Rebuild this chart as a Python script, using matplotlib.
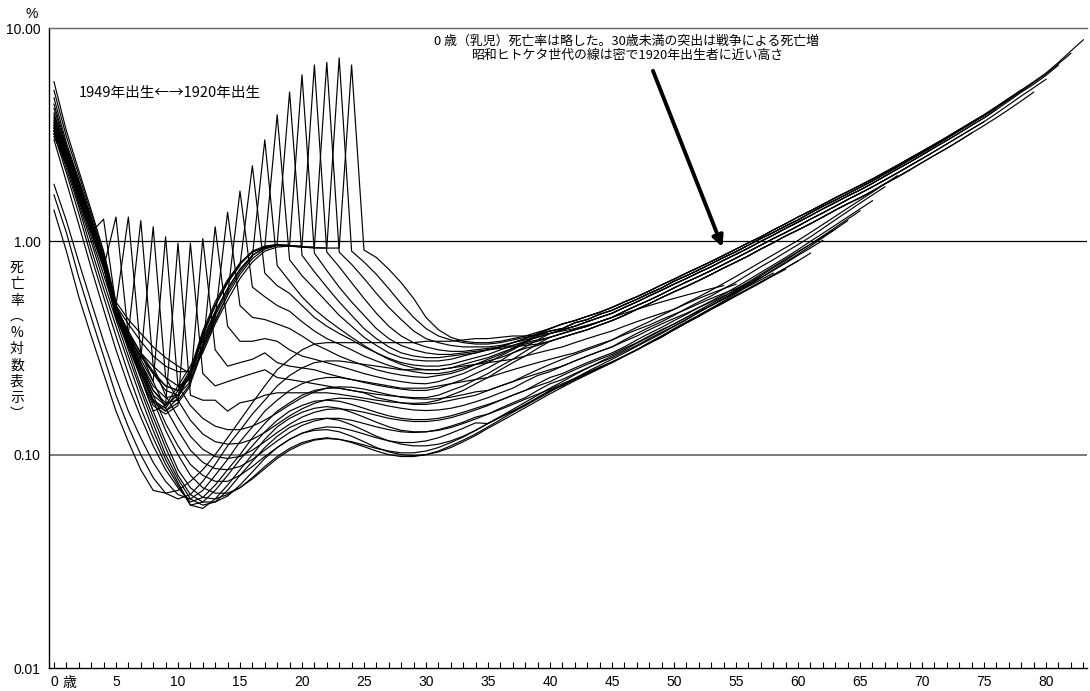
import matplotlib
matplotlib.use("Agg")
import matplotlib.pyplot as plt
import matplotlib.transforms as mtransforms
from matplotlib.ticker import FixedLocator, NullLocator

plt.rcParams['font.family'] = ['Liberation Sans', 'Noto Sans CJK JP', 'DejaVu Sans']
JP = ['Noto Sans CJK JP', 'DejaVu Sans']

# ---------------- data (death rate, %, by age index) ----------------
# adult parts shared by the dense upper bundle (ages 40..)
upper_adult_a = [0.39, 0.41, 0.425, 0.445, 0.465, 0.49, 0.52, 0.55, 0.585, 0.625, 0.665, 0.71, 0.755, 0.805, 0.86,
                 0.92, 0.985, 1.05, 1.13, 1.21, 1.3, 1.39, 1.49, 1.6, 1.71, 1.83, 1.96, 2.11, 2.27, 2.45, 2.64, 2.85,
                 3.08, 3.34, 3.62, 3.92, 4.28, 4.68, 5.12, 5.6, 6.15, 6.9, 7.8, 8.8]
upper_adult_b = [0.38, 0.39, 0.415, 0.43, 0.455, 0.475, 0.505, 0.535, 0.57, 0.605, 0.65, 0.69, 0.735, 0.785, 0.84,
                 0.895, 0.96, 1.03, 1.1, 1.18, 1.26, 1.36, 1.46, 1.56, 1.67, 1.79, 1.92, 2.07, 2.23, 2.41, 2.6, 2.81,
                 3.04, 3.3, 3.58, 3.88, 4.23, 4.62, 5.05, 5.55, 6.1, 6.8, 7.6]
upper_adult_c = [0.37, 0.385, 0.40, 0.42, 0.44, 0.46, 0.49, 0.52, 0.555, 0.59, 0.63, 0.67, 0.715, 0.76, 0.815, 0.87,
                 0.93, 1.0, 1.07, 1.15, 1.23, 1.32, 1.42, 1.52, 1.63, 1.74, 1.87, 2.02, 2.18, 2.35, 2.54, 2.75, 2.97,
                 3.22, 3.5, 3.79, 4.15, 4.55, 5.0, 5.45, 6.0, 6.7]
upper_adult_d = [0.355, 0.37, 0.385, 0.4, 0.42, 0.44, 0.47, 0.5, 0.53, 0.565, 0.605, 0.645, 0.685, 0.73, 0.78, 0.835,
                 0.895, 0.96, 1.03, 1.1, 1.18, 1.27, 1.36, 1.46, 1.57, 1.68, 1.8, 1.94, 2.09, 2.26, 2.44, 2.64, 2.86,
                 3.1, 3.36, 3.64, 3.98, 4.37, 4.8, 5.25, 5.75]
upper_adult_e = [0.34, 0.355, 0.37, 0.385, 0.405, 0.425, 0.45, 0.48, 0.51, 0.545, 0.58, 0.615, 0.655, 0.7, 0.75, 0.8,
                 0.855, 0.92, 0.985, 1.06, 1.13, 1.21, 1.3, 1.4, 1.5, 1.6, 1.72, 1.86, 2.0, 2.16, 2.34, 2.53, 2.73,
                 2.96, 3.22, 3.49, 3.8, 4.15, 4.55, 5.0]

# adult parts of the lower bundle (ages 35..)
lower_adult_a = [0.2, 0.21, 0.22, 0.235, 0.25, 0.265, 0.28, 0.295, 0.31, 0.325, 0.345, 0.37, 0.395, 0.42, 0.45, 0.48,
                 0.515, 0.55, 0.59, 0.635, 0.685, 0.74, 0.8, 0.865, 0.935, 1.01, 1.1, 1.2, 1.31, 1.43, 1.56, 1.7,
                 1.86, 2.03]
lower_adult_b = [0.185, 0.195, 0.205, 0.22, 0.235, 0.245, 0.26, 0.275, 0.29, 0.305, 0.32, 0.345, 0.37, 0.395, 0.42,
                 0.45, 0.485, 0.52, 0.555, 0.6, 0.645, 0.7, 0.76, 0.82, 0.89, 0.965, 1.05, 1.15, 1.26, 1.38, 1.51,
                 1.65, 1.8]
lower_adult_c = [0.17, 0.18, 0.19, 0.2, 0.215, 0.23, 0.24, 0.255, 0.27, 0.285, 0.3, 0.32, 0.345, 0.37, 0.395, 0.425,
                 0.455, 0.49, 0.525, 0.565, 0.61, 0.66, 0.715, 0.775, 0.84, 0.915, 1.0, 1.09, 1.19, 1.3, 1.42, 1.55]
lower_adult_d = [0.155, 0.165, 0.175, 0.185, 0.2, 0.215, 0.225, 0.24, 0.255, 0.27, 0.285, 0.305, 0.325, 0.35, 0.375,
                 0.4, 0.43, 0.465, 0.5, 0.54, 0.585, 0.635, 0.69, 0.75, 0.815, 0.89, 0.97, 1.06, 1.16, 1.27, 1.39]
lower_adult_e = [0.14, 0.15, 0.16, 0.17, 0.185, 0.2, 0.21, 0.225, 0.24, 0.255, 0.27, 0.29, 0.31, 0.335, 0.36, 0.385,
                 0.415, 0.45, 0.485, 0.525, 0.57, 0.62, 0.675, 0.735, 0.8, 0.87, 0.95, 1.04, 1.14, 1.25]

# ages 0..39 of cohorts 1920-1934
young_1920 = [5.6, 3.3, 2.15, 1.4, 0.9, 0.52, 0.43, 0.37, 0.32, 0.285, 0.26, 0.24, 0.3, 0.41, 0.53, 0.67, 0.8, 0.9,
              0.94, 0.95, 0.94, 0.93, 0.93, 0.93, 6.71, 0.91, 0.84, 0.74, 0.64, 0.54, 0.44, 0.385, 0.355, 0.34,
              0.335, 0.335, 0.34, 0.35, 0.36, 0.375]
young_1921 = [5.1, 3.1, 2.05, 1.35, 0.88, 0.5, 0.41, 0.34, 0.29, 0.26, 0.245, 0.245, 0.32, 0.43, 0.56, 0.7, 0.83,
              0.92, 0.955, 0.95, 0.94, 0.935, 0.93, 7.24, 0.9, 0.8, 0.7, 0.6, 0.51, 0.44, 0.39, 0.36, 0.345, 0.335,
              0.33, 0.33, 0.335, 0.345, 0.355, 0.365]
young_1922 = [4.7, 2.9, 1.95, 1.3, 0.85, 0.49, 0.38, 0.3, 0.245, 0.21, 0.2, 0.24, 0.35, 0.47, 0.6, 0.74, 0.86, 0.93,
              0.96, 0.955, 0.945, 0.94, 6.9, 0.89, 0.78, 0.67, 0.57, 0.49, 0.43, 0.38, 0.35, 0.335, 0.325, 0.32,
              0.32, 0.32, 0.325, 0.335, 0.345, 0.355]
young_1923 = [4.4, 2.8, 1.9, 1.28, 0.84, 0.48, 0.36, 0.27, 0.2, 0.17, 0.19, 0.245, 0.37, 0.5, 0.64, 0.78, 0.89, 0.94,
              0.96, 0.955, 0.95, 6.71, 0.89, 0.76, 0.64, 0.54, 0.46, 0.4, 0.36, 0.335, 0.32, 0.31, 0.305, 0.305,
              0.31, 0.315, 0.32, 0.325, 0.335, 0.345]
young_1924 = [4.2, 2.75, 1.88, 1.26, 0.83, 0.48, 0.35, 0.25, 0.18, 0.165, 0.2, 0.25, 0.38, 0.52, 0.66, 0.79, 0.9,
              0.95, 0.965, 0.96, 6.03, 0.88, 0.73, 0.61, 0.52, 0.45, 0.39, 0.35, 0.325, 0.31, 0.3, 0.295, 0.295,
              0.3, 0.305, 0.31, 0.315, 0.32, 0.325, 0.33]
young_1925 = [4.0, 2.7, 1.85, 1.25, 0.82, 0.47, 0.33, 0.23, 0.16, 0.17, 0.21, 0.26, 0.34, 0.46, 0.6, 0.74, 0.86,
              0.94, 0.97, 5.01, 0.86, 0.72, 0.61, 0.52, 0.45, 0.39, 0.35, 0.32, 0.3, 0.29, 0.285, 0.285, 0.29,
              0.295, 0.3, 0.31, 0.32, 0.335, 0.35, 0.37]
young_1926 = [3.9, 2.65, 1.82, 1.23, 0.81, 0.47, 0.34, 0.24, 0.175, 0.16, 0.185, 0.24, 0.36, 0.5, 0.65, 0.79, 0.89,
              0.94, 3.92, 0.82, 0.69, 0.6, 0.52, 0.45, 0.4, 0.355, 0.325, 0.3, 0.285, 0.278, 0.275, 0.275, 0.28,
              0.29, 0.3, 0.31, 0.32, 0.335, 0.35, 0.365]
young_1927 = [3.8, 2.6, 1.8, 1.22, 0.8, 0.46, 0.35, 0.27, 0.21, 0.185, 0.19, 0.235, 0.33, 0.45, 0.58, 0.72, 0.85,
              2.99, 0.77, 0.65, 0.55, 0.48, 0.43, 0.39, 0.355, 0.325, 0.3, 0.283, 0.27, 0.263, 0.26, 0.26, 0.265,
              0.275, 0.285, 0.295, 0.31, 0.325, 0.34, 0.355]
young_1928 = [3.7, 2.6, 1.78, 1.21, 0.8, 0.46, 0.36, 0.29, 0.24, 0.21, 0.2, 0.23, 0.37, 0.5, 0.64, 0.77, 2.26, 0.71,
              0.62, 0.57, 0.5, 0.44, 0.4, 0.37, 0.345, 0.32, 0.3, 0.28, 0.265, 0.255, 0.25, 0.25, 0.255, 0.265,
              0.275, 0.285, 0.3, 0.315, 0.33, 0.34]
young_1929 = [3.6, 2.55, 1.76, 1.2, 0.79, 0.46, 0.37, 0.3, 0.26, 0.23, 0.21, 0.225, 0.31, 0.42, 0.56, 1.72, 0.61,
              0.55, 0.5, 0.47, 0.42, 0.38, 0.35, 0.33, 0.31, 0.29, 0.275, 0.262, 0.252, 0.245, 0.24, 0.24, 0.245,
              0.255, 0.265, 0.275, 0.285, 0.3, 0.315, 0.325]
young_1930 = [3.5, 2.5, 1.74, 1.19, 0.78, 0.45, 0.36, 0.29, 0.24, 0.2, 0.19, 0.22, 0.32, 0.44, 1.37, 0.5, 0.44, 0.43,
              0.41, 0.39, 0.36, 0.33, 0.31, 0.29, 0.275, 0.262, 0.25, 0.242, 0.236, 0.232, 0.23, 0.235, 0.24, 0.25,
              0.265, 0.28, 0.295, 0.315, 0.34, 0.365]
young_1931 = [3.4, 2.45, 1.72, 1.18, 0.77, 0.45, 0.34, 0.26, 0.2, 0.175, 0.18, 0.215, 0.31, 1.17, 0.4, 0.34, 0.34,
              0.35, 0.34, 0.31, 0.29, 0.28, 0.27, 0.26, 0.25, 0.24, 0.232, 0.225, 0.22, 0.216, 0.215, 0.22, 0.23,
              0.24, 0.255, 0.27, 0.29, 0.31, 0.335, 0.36]
young_1932 = [3.3, 2.4, 1.7, 1.17, 0.77, 0.45, 0.33, 0.24, 0.18, 0.16, 0.175, 0.21, 1.03, 0.31, 0.26, 0.27, 0.28, 0.3,
              0.27, 0.26, 0.255, 0.25, 0.24, 0.232, 0.225, 0.218, 0.212, 0.207, 0.203, 0.2, 0.2, 0.205, 0.215,
              0.225, 0.24, 0.255, 0.275, 0.3, 0.32, 0.345]
young_1933 = [3.2, 2.35, 1.68, 1.16, 0.76, 0.44, 0.32, 0.23, 0.17, 0.155, 0.17, 0.98, 0.24, 0.21, 0.22, 0.23, 0.24,
              0.25, 0.23, 0.225, 0.22, 0.215, 0.21, 0.205, 0.2, 0.196, 0.192, 0.189, 0.187, 0.185, 0.185, 0.19, 0.2,
              0.21, 0.225, 0.24, 0.26, 0.28, 0.305, 0.33]
young_1934 = [3.1, 2.3, 1.66, 1.15, 0.76, 0.44, 0.33, 0.25, 0.19, 0.17, 0.98, 0.19, 0.18, 0.18, 0.16, 0.175, 0.18,
              0.19, 0.195, 0.195, 0.195, 0.195, 0.195, 0.192, 0.188, 0.184, 0.18, 0.177, 0.175, 0.174, 0.175, 0.18,
              0.19, 0.2, 0.215, 0.23, 0.25, 0.27, 0.29, 0.315]

# ages 0..34 of cohorts 1935-1939
young_1935 = [3.5, 2.5, 1.7, 1.2, 0.8, 0.5, 0.37, 0.28, 0.22, 1.05, 0.21, 0.17, 0.148, 0.136, 0.131, 0.131, 0.136,
              0.145, 0.157, 0.171, 0.185, 0.197, 0.205, 0.208, 0.207, 0.203, 0.197, 0.191, 0.186, 0.183, 0.182,
              0.183, 0.186, 0.191, 0.197]
young_1936 = [3.7, 2.55, 1.75, 1.2, 0.8, 0.5, 0.37, 0.28, 1.17, 0.23, 0.18, 0.145, 0.125, 0.115, 0.112, 0.113, 0.118,
              0.127, 0.139, 0.152, 0.164, 0.174, 0.181, 0.184, 0.183, 0.179, 0.174, 0.169, 0.165, 0.162, 0.161,
              0.162, 0.165, 0.17, 0.177]
young_1937 = [3.6, 2.5, 1.7, 1.15, 0.78, 0.5, 0.37, 1.25, 0.26, 0.19, 0.15, 0.122, 0.106, 0.098, 0.096, 0.098, 0.105,
              0.115, 0.127, 0.139, 0.15, 0.158, 0.163, 0.164, 0.162, 0.158, 0.153, 0.148, 0.145, 0.143, 0.143,
              0.145, 0.149, 0.155, 0.162]
young_1938 = [3.2, 2.4, 1.65, 1.15, 0.78, 0.5, 1.3, 0.3, 0.22, 0.165, 0.13, 0.105, 0.092, 0.086, 0.085, 0.088, 0.095,
              0.105, 0.116, 0.127, 0.137, 0.144, 0.148, 0.148, 0.145, 0.14, 0.135, 0.131, 0.128, 0.127, 0.128,
              0.131, 0.136, 0.142, 0.15]
young_1939 = [3.3, 2.4, 1.6, 1.1, 0.75, 1.3, 0.36, 0.26, 0.19, 0.14, 0.11, 0.09, 0.08, 0.075, 0.075, 0.08, 0.088,
              0.098, 0.108, 0.118, 0.126, 0.132, 0.135, 0.134, 0.13, 0.125, 0.12, 0.116, 0.114, 0.114, 0.116, 0.12,
              0.126, 0.133, 0.141]

# complete series of cohorts 1940-1949
full_1940 = [3.4, 2.4, 1.6, 1.1, 1.27, 0.5, 0.35, 0.25, 0.18, 0.13, 0.1, 0.08, 0.07, 0.066, 0.066, 0.07, 0.077, 0.086,
             0.096, 0.105, 0.112, 0.117, 0.119, 0.118, 0.115, 0.111, 0.107, 0.104, 0.102, 0.102, 0.104, 0.108,
             0.114, 0.121, 0.13, 0.14, 0.151, 0.163, 0.176, 0.19, 0.205, 0.22, 0.237, 0.254, 0.272, 0.29, 0.31,
             0.333, 0.357, 0.383, 0.41, 0.44, 0.475, 0.51, 0.55, 0.595, 0.645, 0.7, 0.76, 0.825, 0.895, 0.97, 1.05,
             1.14]
full_1941 = [3.5, 2.4, 1.6, 1.1, 0.75, 0.5, 0.34, 0.23, 0.16, 0.115, 0.085, 0.07, 0.063, 0.062, 0.065, 0.07, 0.078,
             0.088, 0.098, 0.107, 0.114, 0.118, 0.12, 0.118, 0.114, 0.109, 0.104, 0.1, 0.098, 0.098, 0.1, 0.104,
             0.11, 0.117, 0.125, 0.135, 0.146, 0.158, 0.17, 0.183, 0.197, 0.212, 0.228, 0.245, 0.262, 0.28, 0.3,
             0.322, 0.345, 0.37, 0.4, 0.43, 0.465, 0.5, 0.54, 0.58, 0.625, 0.675, 0.73, 0.79, 0.86, 0.93, 1.01]
full_1942 = [3.3, 2.35, 1.55, 1.05, 0.7, 0.46, 0.31, 0.21, 0.15, 0.108, 0.08, 0.065, 0.06, 0.06, 0.064, 0.072, 0.083,
             0.096, 0.108, 0.118, 0.126, 0.13, 0.131, 0.128, 0.122, 0.115, 0.108, 0.103, 0.1, 0.099, 0.1, 0.103,
             0.108, 0.115, 0.123, 0.133, 0.143, 0.154, 0.166, 0.179, 0.193, 0.207, 0.222, 0.237, 0.253, 0.27, 0.29,
             0.31, 0.333, 0.358, 0.385, 0.415, 0.445, 0.48, 0.515, 0.555, 0.6, 0.645, 0.695, 0.75, 0.81, 0.88]
full_1943 = [3.4, 2.3, 1.5, 1.0, 0.65, 0.43, 0.29, 0.2, 0.14, 0.1, 0.077, 0.062, 0.058, 0.06, 0.068, 0.08, 0.093,
             0.108, 0.122, 0.134, 0.142, 0.147, 0.148, 0.145, 0.138, 0.13, 0.122, 0.116, 0.112, 0.11, 0.11, 0.112,
             0.116, 0.122, 0.13, 0.14, 0.15, 0.16, 0.172, 0.185, 0.2, 0.212, 0.226, 0.24, 0.256, 0.272, 0.29, 0.31,
             0.335, 0.36, 0.39, 0.42, 0.45, 0.485, 0.52, 0.56, 0.6, 0.645, 0.695, 0.75, 0.81]
full_1944 = [3.3, 2.2, 1.45, 0.92, 0.6, 0.4, 0.27, 0.185, 0.13, 0.095, 0.074, 0.058, 0.056, 0.062, 0.072, 0.085, 0.1,
             0.118, 0.135, 0.148, 0.158, 0.165, 0.168, 0.165, 0.158, 0.15, 0.142, 0.135, 0.13, 0.128, 0.128, 0.13,
             0.134, 0.14, 0.147, 0.155, 0.163, 0.172, 0.182, 0.192, 0.203, 0.215, 0.228, 0.242, 0.257, 0.272, 0.29,
             0.31, 0.332, 0.355, 0.385, 0.415, 0.445, 0.48, 0.515, 0.555, 0.595, 0.64, 0.69, 0.74]
full_1945 = [3.2, 2.1, 1.35, 0.85, 0.55, 0.36, 0.24, 0.165, 0.12, 0.09, 0.072, 0.058, 0.06, 0.068, 0.08, 0.095, 0.11,
             0.128, 0.145, 0.16, 0.17, 0.178, 0.18, 0.178, 0.172, 0.165, 0.158, 0.152, 0.148, 0.146, 0.146, 0.148,
             0.152, 0.158, 0.165, 0.172, 0.18, 0.19, 0.2, 0.21, 0.22, 0.235, 0.25, 0.265, 0.28, 0.295, 0.315, 0.335,
             0.36, 0.385, 0.41, 0.44, 0.47, 0.5, 0.535, 0.575, 0.615, 0.66, 0.71]
full_1946 = [3.0, 1.9, 1.2, 0.75, 0.48, 0.31, 0.21, 0.15, 0.11, 0.085, 0.07, 0.06, 0.063, 0.072, 0.085, 0.1, 0.12,
             0.14, 0.16, 0.175, 0.19, 0.2, 0.205, 0.205, 0.2, 0.195, 0.185, 0.18, 0.175, 0.172, 0.172, 0.175, 0.18,
             0.185, 0.19, 0.2, 0.21, 0.22, 0.23, 0.24, 0.25, 0.26, 0.275, 0.29, 0.305, 0.32, 0.34, 0.36, 0.385,
             0.41, 0.435, 0.46, 0.49, 0.52, 0.555, 0.59, 0.635, 0.68]
full_1947 = [1.85, 1.25, 0.8, 0.52, 0.34, 0.23, 0.16, 0.12, 0.092, 0.075, 0.065, 0.062, 0.068, 0.08, 0.095, 0.115,
             0.135, 0.16, 0.18, 0.2, 0.215, 0.225, 0.23, 0.23, 0.225, 0.22, 0.215, 0.21, 0.205, 0.205, 0.205, 0.21,
             0.215, 0.22, 0.225, 0.23, 0.24, 0.25, 0.26, 0.27, 0.28, 0.29, 0.3, 0.315, 0.33, 0.345, 0.365, 0.385,
             0.405, 0.43, 0.455, 0.48, 0.51, 0.54, 0.57, 0.6, 0.64]
full_1948 = [1.65, 1.1, 0.68, 0.44, 0.29, 0.19, 0.135, 0.1, 0.078, 0.066, 0.062, 0.065, 0.075, 0.09, 0.11, 0.13,
             0.155, 0.18, 0.21, 0.235, 0.255, 0.27, 0.275, 0.275, 0.27, 0.265, 0.26, 0.255, 0.25, 0.25, 0.25, 0.25,
             0.255, 0.26, 0.265, 0.27, 0.275, 0.28, 0.29, 0.3, 0.31, 0.32, 0.335, 0.35, 0.365, 0.38, 0.4, 0.42,
             0.44, 0.46, 0.48, 0.51, 0.54, 0.57, 0.6, 0.63]
full_1949 = [1.4, 0.9, 0.55, 0.36, 0.24, 0.16, 0.115, 0.085, 0.068, 0.066, 0.068, 0.075, 0.085, 0.1, 0.12, 0.145,
             0.175, 0.21, 0.25, 0.28, 0.31, 0.33, 0.335, 0.335, 0.335, 0.335, 0.335, 0.335, 0.335, 0.335, 0.34,
             0.34, 0.34, 0.345, 0.35, 0.35, 0.355, 0.36, 0.36, 0.365, 0.37, 0.38, 0.39, 0.405, 0.42, 0.44, 0.46,
             0.48, 0.5, 0.52, 0.54, 0.56, 0.58, 0.6, 0.62]

cohorts = [
    (1920, young_1920 + upper_adult_a), (1921, young_1921 + upper_adult_b), (1922, young_1922 + upper_adult_c),
    (1923, young_1923 + upper_adult_d), (1924, young_1924 + upper_adult_e), (1925, young_1925 + upper_adult_a),
    (1926, young_1926 + upper_adult_b), (1927, young_1927 + upper_adult_c), (1928, young_1928 + upper_adult_d),
    (1929, young_1929 + upper_adult_e), (1930, young_1930 + upper_adult_a), (1931, young_1931 + upper_adult_b),
    (1932, young_1932 + upper_adult_c), (1933, young_1933 + upper_adult_d), (1934, young_1934 + upper_adult_e),
    (1935, young_1935 + lower_adult_a), (1936, young_1936 + lower_adult_b), (1937, young_1937 + lower_adult_c),
    (1938, young_1938 + lower_adult_d + [1.16, 1.27, 1.39]),
    (1939, young_1939 + lower_adult_e),
    (1940, full_1940), (1941, full_1941), (1942, full_1942), (1943, full_1943), (1944, full_1944),
    (1945, full_1945), (1946, full_1946), (1947, full_1947), (1948, full_1948), (1949, full_1949),
]
last_year = 2003

xtick_pos = [0, 5, 10, 15, 20, 25, 30, 35, 40, 45, 50, 55, 60, 65, 70, 75, 80]
xtick_lab = ['0', '5', '10', '15', '20', '25', '30', '35', '40', '45', '50', '55', '60', '65', '70', '75', '80']
ytick_pos = [0.01, 0.1, 1.0, 10.0]
ytick_lab = ['0.01', '0.10', '1.00', '10.00']

# ---------------- figure ----------------
fig = plt.figure(figsize=(10.9, 6.91), dpi=100)
ax = fig.add_axes([49 / 1090, 23 / 691, 1038 / 1090, 640 / 691])

for year, vals in cohorts:
    vals = vals[: last_year - year + 1]
    ax.plot(range(len(vals)), vals, color='black', lw=0.85, zorder=3)

ax.set_yscale('log')
ax.set_ylim(0.01, 10)
ax.set_xlim(-0.4, 83.3)

ax.axhline(1.0, color='black', lw=0.9, zorder=1)
ax.axhline(0.1, color='#7a7a7a', lw=1.4, zorder=1)

ax.spines['right'].set_visible(False)
ax.spines['top'].set_color('#666666')
ax.spines['top'].set_linewidth(1.0)
ax.spines['left'].set_linewidth(1.0)
ax.spines['bottom'].set_linewidth(1.0)

ax.yaxis.set_major_locator(FixedLocator(ytick_pos))
ax.set_yticklabels(ytick_lab)
ax.yaxis.set_minor_locator(NullLocator())
ax.tick_params(axis='y', which='both', length=0, pad=6, labelsize=10)

ax.xaxis.set_major_locator(FixedLocator(xtick_pos))
ax.set_xticklabels(xtick_lab)
ax.xaxis.set_minor_locator(FixedLocator(list(range(0, 84))))
ax.tick_params(axis='x', which='both', direction='in', length=4, width=0.8, pad=5, labelsize=10)

trans = mtransforms.blended_transform_factory(ax.transData, ax.transAxes)
ax.text(0.73, -0.0235, '歳', transform=trans, ha='left', va='center', fontsize=10, family=JP)

fig.text(32 / 1090, 1 - 14 / 691, '%', ha='center', va='center', fontsize=10)

fig.text(17 / 1090, 1 - 341 / 691, '死\n亡\n率\n︵\n%\n対\n数\n表\n示\n︶', ha='center', va='center',
         fontsize=10, linespacing=1.2, family=JP)

fig.text(626 / 1090, 1 - 41 / 691, '0 歳（乳児）死亡率は略した。30歳未満の突出は戦争による死亡増',
         ha='center', va='center', fontsize=9.3, family=JP)
fig.text(627 / 1090, 1 - 55 / 691, '昭和ヒトケタ世代の線は密で1920年出生者に近い高さ',
         ha='center', va='center', fontsize=9.3, family=JP)
fig.text(79 / 1090, 1 - 93 / 691, '1949年出生←→1920年出生', ha='left', va='center', fontsize=10.5, family=JP)

ax.annotate('', xy=(53.9, 0.94), xytext=(48.3, 6.3),
            arrowprops=dict(arrowstyle='-|>', lw=2.8, color='black', mutation_scale=16,
                            shrinkA=0, shrinkB=0), zorder=5)

fig.savefig('out.png', dpi=100)
